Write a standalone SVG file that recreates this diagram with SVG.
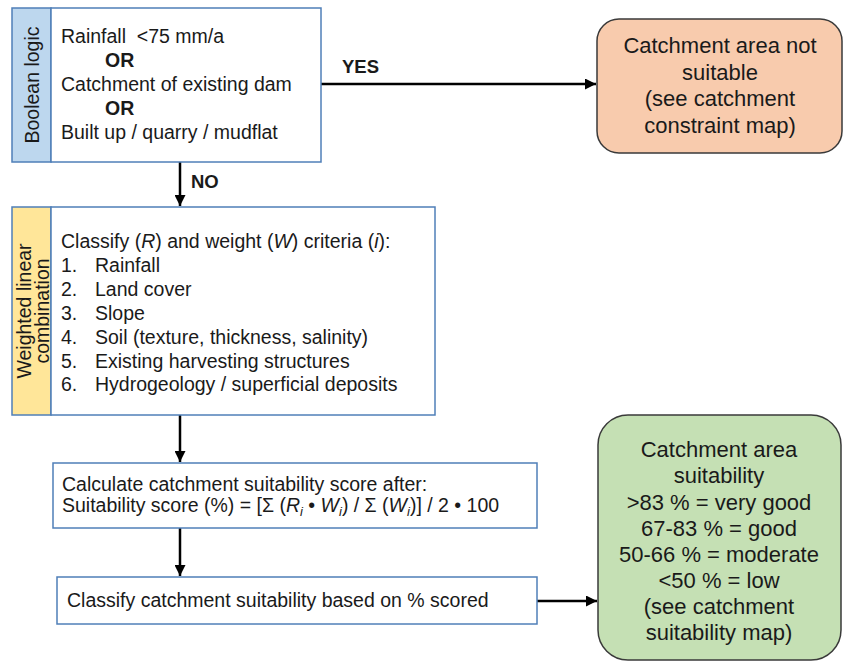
<svg xmlns="http://www.w3.org/2000/svg" width="843" height="664" viewBox="0 0 843 664">
<style>
text{font-family:"Liberation Sans",Arial,sans-serif;font-size:19.5px;fill:#1a1a1a}
.b{font-weight:bold}
.big{font-size:22px;text-anchor:middle}
.box{fill:#fff;stroke:#4f7fb8;stroke-width:1.5}
.side1{fill:#bdd7ee;stroke:#4f7fb8;stroke-width:1.5}
.side2{fill:#ffe699;stroke:#4f7fb8;stroke-width:1.5}
.ln{stroke:#000;stroke-width:2.5;fill:none}
.it{font-style:italic}
.sub{font-size:13px;font-style:italic}
</style>
<defs>
<marker id="ah" viewBox="0 0 10 10" refX="10" refY="5" markerWidth="4.4" markerHeight="4.4" orient="auto" markerUnits="strokeWidth">
<path d="M0,0 L10,5 L0,10 z" fill="#000"/>
</marker>
</defs>
<g id="connectors">
<line class="ln" x1="321" y1="84" x2="596" y2="84" marker-end="url(#ah)"/>
<line class="ln" x1="180" y1="162" x2="180" y2="206" marker-end="url(#ah)"/>
<line class="ln" x1="180" y1="415" x2="180" y2="462" marker-end="url(#ah)"/>
<line class="ln" x1="180" y1="528" x2="180" y2="576" marker-end="url(#ah)"/>
<line class="ln" x1="537" y1="601" x2="597" y2="601" marker-end="url(#ah)"/>
<text class="b" x="342" y="73" style="font-size:18.5px">YES</text>
<text class="b" x="191" y="188" style="font-size:18.5px">NO</text>
</g>
<g id="boolean">
<rect class="side1" x="12" y="8" width="39" height="154"/>
<rect class="box" x="51" y="8" width="270" height="154"/>
<text transform="translate(38.5,85) rotate(-90)" text-anchor="middle">Boolean logic</text>
<text x="61" y="43">Rainfall&#160; &lt;75 mm/a</text>
<text class="b" x="105" y="67">OR</text>
<text x="61" y="91">Catchment of existing dam</text>
<text class="b" x="105" y="115">OR</text>
<text x="61" y="139">Built up / quarry / mudflat</text>
</g>
<g id="not-suitable">
<rect x="597" y="19" width="245" height="134" rx="22" fill="#f8cbad" stroke="#3a3a3a" stroke-width="1.5"/>
<text class="big" x="720" y="53">Catchment area not</text>
<text class="big" x="720" y="80">suitable</text>
<text class="big" x="720" y="106">(see catchment</text>
<text class="big" x="720" y="133">constraint map)</text>
</g>
<g id="wlc">
<rect class="side2" x="12" y="207" width="39" height="208"/>
<rect class="box" x="51" y="207" width="384" height="208"/>
<text transform="translate(31,311) rotate(-90)" text-anchor="middle">Weighted linear</text>
<text transform="translate(49,311) rotate(-90)" text-anchor="middle">combination</text>
<text x="61" y="248">Classify (<tspan class="it">R</tspan>) and weight (<tspan class="it">W</tspan>) criteria (<tspan class="it">i</tspan>):</text>
<text x="61" y="272">1.</text><text x="95" y="272">Rainfall</text>
<text x="61" y="296">2.</text><text x="95" y="296">Land cover</text>
<text x="61" y="320">3.</text><text x="95" y="320">Slope</text>
<text x="61" y="344">4.</text><text x="95" y="344">Soil (texture, thickness, salinity)</text>
<text x="61" y="368">5.</text><text x="95" y="368">Existing harvesting structures</text>
<text x="61" y="391">6.</text><text x="95" y="391">Hydrogeology / superficial deposits</text>
</g>
<g id="calculate">
<rect class="box" x="53" y="463" width="484" height="65"/>
<text x="62" y="491">Calculate catchment suitability score after:</text>
<text x="62" y="512">Suitability score (%) = [Σ (<tspan class="it">R</tspan><tspan class="sub" dy="4">i</tspan><tspan dy="-4"> • </tspan><tspan class="it">W</tspan><tspan class="sub" dy="4">i</tspan><tspan dy="-4">) / Σ (</tspan><tspan class="it">W</tspan><tspan class="sub" dy="4">i</tspan><tspan dy="-4">)] / 2 • 100</tspan></text>
</g>
<g id="classify">
<rect class="box" x="57" y="577" width="480" height="47"/>
<text x="67" y="607">Classify catchment suitability based on % scored</text>
</g>
<g id="suitability">
<rect x="598" y="415" width="243" height="245" rx="30" fill="#c5e0b4" stroke="#3a3a3a" stroke-width="1.5"/>
<text class="big" x="719" y="457">Catchment area</text>
<text class="big" x="719" y="483">suitability</text>
<text class="big" x="719" y="510">&gt;83 % = very good</text>
<text class="big" x="719" y="536">67-83 % = good</text>
<text class="big" x="719" y="562">50-66 % = moderate</text>
<text class="big" x="719" y="588">&lt;50 % = low</text>
<text class="big" x="719" y="614">(see catchment</text>
<text class="big" x="719" y="640">suitability map)</text>
</g>
</svg>
